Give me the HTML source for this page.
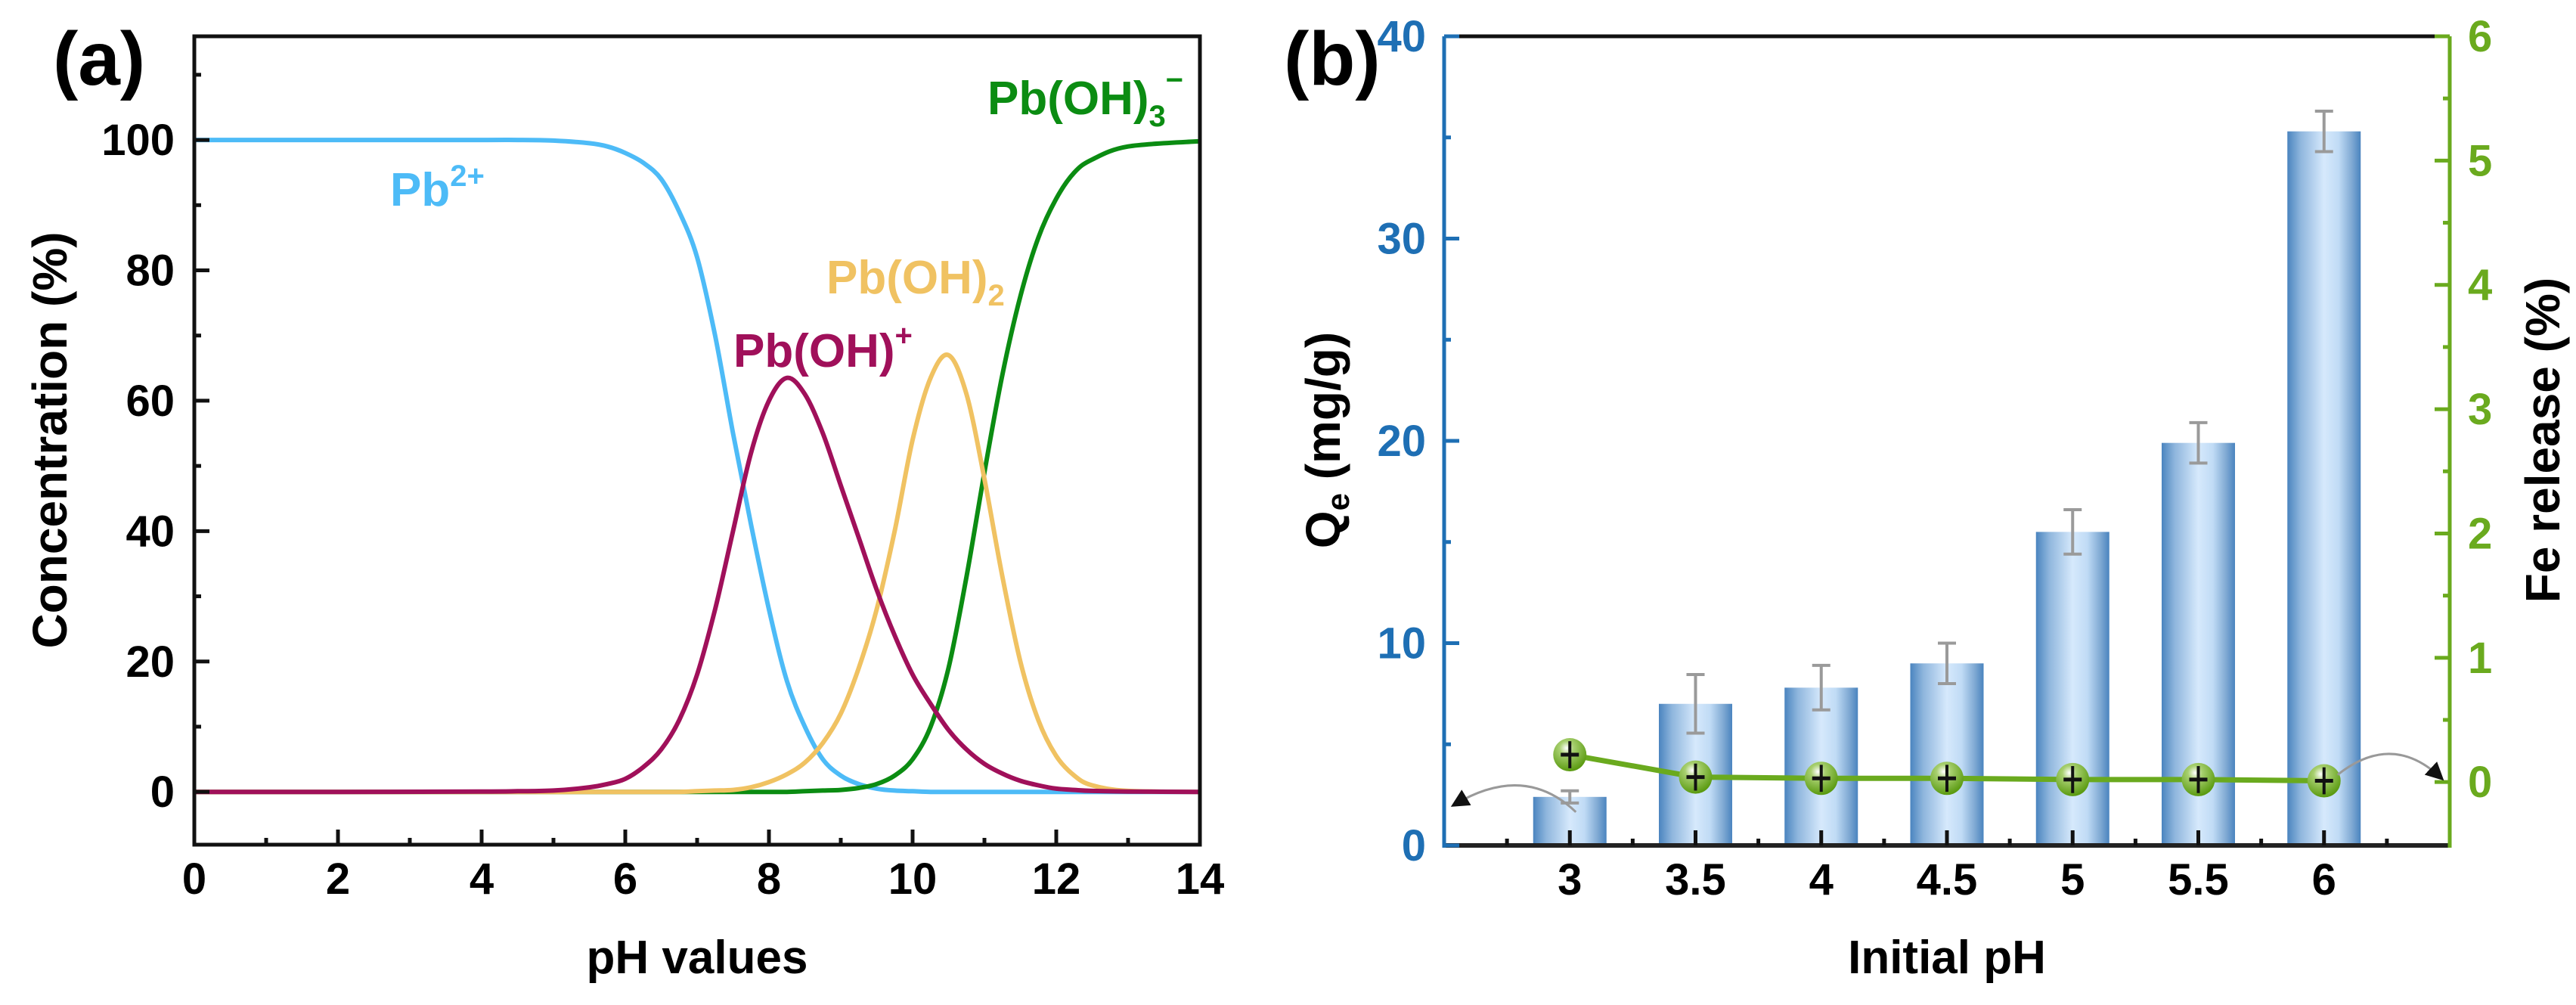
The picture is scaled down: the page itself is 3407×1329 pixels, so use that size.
<!DOCTYPE html>
<html><head><meta charset="utf-8"><style>
html,body{margin:0;padding:0;background:#fff;}
svg{display:block;}
text{font-family:"Liberation Sans",Arial,sans-serif;font-weight:bold;}
.tk{font-family:"Liberation Sans Narrow","Liberation Sans",sans-serif;font-weight:bold;font-size:58px;}
</style></head><body>
<svg id="fig" width="3407" height="1329" viewBox="0 0 3407 1329" xmlns="http://www.w3.org/2000/svg">
<defs>
<linearGradient id="barGrad" x1="0" y1="0" x2="1" y2="0">
<stop offset="0" stop-color="#4a84bf"/><stop offset="0.18" stop-color="#8fb6dd"/>
<stop offset="0.5" stop-color="#d6e9fc"/><stop offset="0.7" stop-color="#c0dbf5"/>
<stop offset="0.88" stop-color="#7fa9d3"/><stop offset="1" stop-color="#4a84bf"/>
</linearGradient>
<radialGradient id="dotGrad" cx="0.4" cy="0.3" r="0.7">
<stop offset="0" stop-color="#ffffff"/><stop offset="0.3" stop-color="#a8d070"/><stop offset="1" stop-color="#5a9a10"/>
</radialGradient>
<marker id="arr" markerWidth="10" markerHeight="10" refX="6" refY="5" orient="auto"><path d="M0,1 L8,5 L0,9 Z" fill="#111"/></marker>
</defs>
<g id="panelA"></g>
<g id="panelB"></g>
</svg>
<script>
// ---------- Panel (a) data ----------
const phA = [0,2,4,4.5,5,5.5,5.75,6,6.25,6.5,6.75,7,7.25,7.5,7.75,8,8.25,8.5,8.75,9,9.25,9.5,9.75,10,10.25,10.5,10.75,11,11.25,11.5,11.75,12,12.25,12.5,13,14];
const pb2 =   [100,100,100,100,99.9,99.5,99,98,96.5,94,89,82,70,55,41,28,17,10,5,2.5,1.2,0.5,0.2,0.1,0,0,0,0,0,0,0,0,0,0,0,0];
const pbOH =  [0,0,0.05,0.1,0.2,0.7,1.2,2,3.8,6.5,11,18,28,40,52,60,63.5,61,55,47,39,31,24,18,13.5,9.5,6.5,4.3,2.8,1.7,1,0.5,0.3,0.15,0.05,0];
const pbOH2 = [0,0,0,0,0,0,0,0,0,0,0,0.1,0.2,0.3,0.7,1.5,2.7,4.5,7.5,12,19,28,40,54,63.5,67,61,48,33,20,11,5.5,2.5,1,0.15,0];
const pbOH3 = [0,0,0,0,0,0,0,0,0,0,0,0,0,0,0,0,0,0.1,0.2,0.3,0.6,1.2,2.5,5,10,19,33,49,64,76,85,91,95,97,99,99.8];
const xTicksA = [0,2,4,6,8,10,12,14];
const yTicksA = [0,20,40,60,80,100];

// ---------- Panel (b) data ----------
const catsB = ["3","3.5","4","4.5","5","5.5","6"];
const qe = [2.4,7.0,7.8,9.0,15.5,19.9,35.3];
const qeErr = [0.3,1.45,1.1,1.0,1.1,1.0,1.0];
const fe = [0.22,0.04,0.03,0.03,0.02,0.02,0.01];
const feErr = [0.06,0.06,0.06,0.06,0.06,0.06,0.06];
const yTicksL = [0,10,20,30,40];
const yTicksR = [0,1,2,3,4,5,6];

const NS="http://www.w3.org/2000/svg";
function mk(tag, attrs, parent, txt){
  const e=document.createElementNS(NS,tag);
  for(const k in attrs) e.setAttribute(k,attrs[k]);
  if(txt!==undefined) e.textContent=txt;
  parent.appendChild(e); return e;
}
function smooth(pts){
  let d="M"+pts[0][0].toFixed(1)+","+pts[0][1].toFixed(1);
  for(let i=0;i<pts.length-1;i++){
    const p0=pts[Math.max(0,i-1)],p1=pts[i],p2=pts[i+1],p3=pts[Math.min(pts.length-1,i+2)];
    const c1=[p1[0]+(p2[0]-p0[0])/6,p1[1]+(p2[1]-p0[1])/6];
    const c2=[p2[0]-(p3[0]-p1[0])/6,p2[1]-(p3[1]-p1[1])/6];
    d+=" C"+c1[0].toFixed(1)+","+c1[1].toFixed(1)+" "+c2[0].toFixed(1)+","+c2[1].toFixed(1)+" "+p2[0].toFixed(1)+","+p2[1].toFixed(1);
  }
  return d;
}

// ===== Panel A =====
(function(){
  const g=document.getElementById('panelA');
  const L=257,R=1587,T=48,B=1117;
  const xmin=0,xmax=14,ymin=-8.1,ymax=115.9;
  const X=v=>L+(v-xmin)/(xmax-xmin)*(R-L);
  const Y=v=>B-(v-ymin)/(ymax-ymin)*(B-T);
  const series=[[pb2,"#4dbbf7","curve-pb2"],[pbOH3,"#0b8c12","curve-pboh3"],[pbOH2,"#f0c262","curve-pboh2"],[pbOH,"#a0105a","curve-pboh"]];
  series.forEach(s=>{
    const p=mk('path',{d:smooth(phA.map((x,i)=>[X(x),Y(s[0][i])])),fill:"none",stroke:s[1],"stroke-width":6,"stroke-linejoin":"round"},g);
    
    
  });
  const fr=mk('rect',{x:L,y:T,width:R-L,height:B-T,fill:"none",stroke:"#111","stroke-width":5},g);
  
  
  for(let v=0;v<=14;v+=1){
    const major=v%2===0;
    mk('line',{x1:X(v),x2:X(v),y1:B,y2:B-(major?20:9),stroke:"#111","stroke-width":5},g);
  }
  for(let v=0;v<=110;v+=10){
    const major=v%20===0;
    mk('line',{x1:L,x2:L+(major?20:9),y1:Y(v),y2:Y(v),stroke:"#111","stroke-width":5},g);
  }
  xTicksA.forEach(v=>{
    const t=mk('text',{x:X(v),y:1182,"text-anchor":"middle",class:"tk"},g,String(v));
    
    
  });
  yTicksA.forEach(v=>{
    const t=mk('text',{x:231,y:Y(v)+20,"text-anchor":"end",class:"tk"},g,String(v));
    
    
  });
})();

// ===== Panel B =====
(function(){
  const g=document.getElementById('panelB');
  const L=1910,R=3240,T=48,B=1118;
  const X=i=>L+(i+1)*(R-L)/8;
  const YL=v=>B-v/40*(B-T);
  const rmin=-0.51,rmax=6;
  const YR=v=>B-(v-rmin)/(rmax-rmin)*(B-T);
  const bw=97;
  qe.forEach((v,i)=>{
    const r=mk('rect',{x:X(i)-bw/2,y:YL(v),width:bw,height:B-YL(v),fill:"url(#barGrad)"},g);
    
    
    const eg=mk('g',{stroke:"#9a9a9a","stroke-width":4,fill:"none"},g);
    
    
    mk('line',{x1:X(i),x2:X(i),y1:YL(v+qeErr[i]),y2:YL(v-qeErr[i])},eg);
    mk('line',{x1:X(i)-12,x2:X(i)+12,y1:YL(v+qeErr[i]),y2:YL(v+qeErr[i])},eg);
    mk('line',{x1:X(i)-12,x2:X(i)+12,y1:YL(v-qeErr[i]),y2:YL(v-qeErr[i])},eg);
  });
  const top=mk('line',{x1:L,x2:R,y1:T,y2:T,stroke:"#111","stroke-width":5},g);
   
  const bot=mk('line',{x1:L,x2:R,y1:B,y2:B,stroke:"#222","stroke-width":6},g);
   
  const la=mk('line',{x1:L,x2:L,y1:T,y2:B+3,stroke:"#1e6fb4","stroke-width":5},g);
   
  const ra=mk('line',{x1:R,x2:R,y1:T,y2:B+3,stroke:"#6aaa1e","stroke-width":5},g);
   
  for(let k=1;k<16;k++){
    const x=L+k*(R-L)/16; const major=k%2===0;
    mk('line',{x1:x,x2:x,y1:B,y2:B-(major?20:9),stroke:"#111","stroke-width":5},g);
  }
  for(let v=0;v<=40;v+=5){
    mk('line',{x1:L,x2:L+(v%10===0?20:9),y1:YL(v),y2:YL(v),stroke:"#1e6fb4","stroke-width":5},g);
  }
  for(let v=0;v<=6;v+=0.5){
    mk('line',{x1:R,x2:R-(v%1===0?20:9),y1:YR(v),y2:YR(v),stroke:"#6aaa1e","stroke-width":5},g);
  }
  catsB.forEach((c,i)=>{
    const t=mk('text',{x:X(i),y:1183,"text-anchor":"middle",class:"tk"},g,c);
    
    
  });
  yTicksL.forEach(v=>{
    const t=mk('text',{x:1886,y:YL(v)+20,"text-anchor":"end",class:"tk",fill:"#1e6fb4"},g,String(v));
    
    
  });
  yTicksR.forEach(v=>{
    const t=mk('text',{x:3264,y:YR(v)+20,"text-anchor":"start",class:"tk",fill:"#6aaa1e"},g,String(v));
    
    
  });
  const ln=mk('polyline',{points:fe.map((v,i)=>X(i)+","+YR(v)).join(" "),fill:"none",stroke:"#6aaa1e","stroke-width":7},g);
  
  
  fe.forEach((v,i)=>{
    const c=mk('circle',{cx:X(i),cy:YR(v),r:22,fill:"url(#dotGrad)"},g);
    
    
    mk('line',{x1:X(i),x2:X(i),y1:YR(v+feErr[i])-8,y2:YR(v-feErr[i])+8,stroke:"#111","stroke-width":4},g);
    mk('line',{x1:X(i)-12,x2:X(i)+12,y1:YR(v),y2:YR(v),stroke:"#111","stroke-width":5},g);
  });
  const a1=mk('path',{d:`M${X(0)+8},${YL(qe[0])+20} Q${X(0)-60},${YL(qe[0])-45} ${L+14},${YL(qe[0])+10}`,fill:"none",stroke:"#999","stroke-width":3,"marker-end":"url(#arr)"},g);
   
  const a2=mk('path',{d:`M${X(6)+18},${YR(fe[6])-8} Q${X(6)+90},${YR(fe[6])-65} ${R-12},${YR(0)-6}`,fill:"none",stroke:"#999","stroke-width":3,"marker-end":"url(#arr)"},g);
   
})();
</script>
<div style="position:absolute;left:0;top:0;width:3407px;height:1329px;pointer-events:none">
<svg width="3407" height="1329" viewBox="0 0 3407 1329" xmlns="http://www.w3.org/2000/svg">
<text x="70" y="112" font-size="100">(a)</text>
<text x="1698" y="112" font-size="100">(b)</text>
<text transform="translate(88,582) rotate(-90)" text-anchor="middle" font-size="64">Concentration (%)</text>
<text x="922" y="1287" text-anchor="middle" font-size="62">pH values</text>
<text x="516" y="272" font-size="62" fill="#4dbbf7">Pb<tspan dy="-26" font-size="40">2+</tspan></text>
<text x="970" y="485" font-size="62" fill="#a0105a">Pb(OH)<tspan dy="-28" font-size="40">+</tspan></text>
<text x="1093" y="388" font-size="62" fill="#f0c262">Pb(OH)<tspan dy="16" font-size="40">2</tspan></text>
<text x="1306" y="151" font-size="62" fill="#0b8c12">Pb(OH)<tspan dy="16" font-size="40">3</tspan><tspan dy="-48" font-size="40">−</tspan></text>
<text transform="translate(1772,582) rotate(-90)" text-anchor="middle" font-size="64">Q<tspan dy="12" font-size="42">e</tspan><tspan dy="-12"> (mg/g)</tspan></text>
<text transform="translate(3385,582) rotate(-90)" text-anchor="middle" font-size="64">Fe release (%)</text>
<text x="2575" y="1287" text-anchor="middle" font-size="62">Initial pH</text>
</svg></div>
</body></html>
